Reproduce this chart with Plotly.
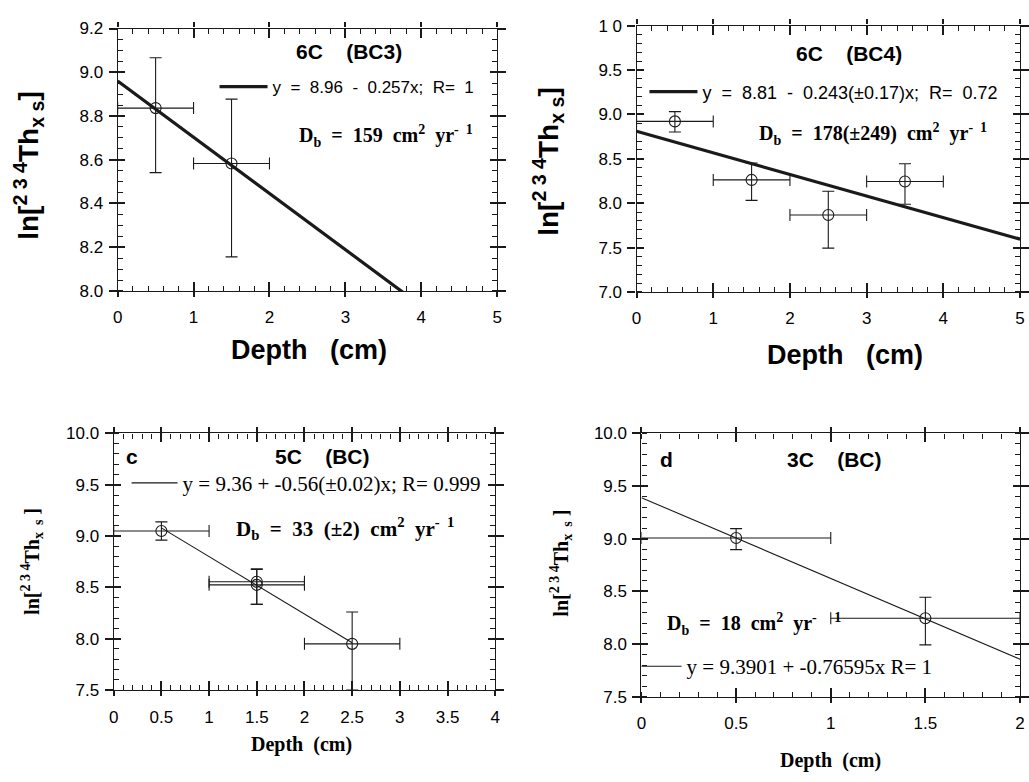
import plotly.graph_objects as go

SANS = "Liberation Sans, Arial, Helvetica, sans-serif"
SERIF = "Liberation Serif, Times New Roman, serif"
NB = "\u00a0"

# ---------------- data ----------------
a_depth = [0.5, 1.5]
a_ln = [8.836, 8.583]
a_err_up = [0.23, 0.294]
a_err_dn = [0.295, 0.427]
a_depth_err = [0.5, 0.5]
a_fit_depth = [0.0, 5.0]
a_fit_ln = [8.96, 7.675]

b_depth = [0.5, 1.5, 2.5, 3.5]
b_ln = [8.921, 8.262, 7.867, 8.244]
b_err_up = [0.11, 0.19, 0.267, 0.2]
b_err_dn = [0.12, 0.23, 0.373, 0.256]
b_depth_err = [0.5, 0.5, 0.5, 0.5]
b_fit_depth = [0.0, 5.0]
b_fit_ln = [8.81, 7.595]

c_depth = [0.5, 1.5, 1.5, 2.5]
c_ln = [9.05, 8.555, 8.525, 7.95]
c_err_up = [0.088, 0.125, 0.15, 0.31]
c_err_dn = [0.089, 0.22, 0.19, 0.45]
c_depth_err = [0.5, 0.5, 0.5, 0.5]
c_fit_depth = [0.5, 2.5]
c_fit_ln = [9.08, 7.96]

d_depth = [0.5, 1.5]
d_ln = [9.007, 8.246]
d_err_up = [0.09, 0.2]
d_err_dn = [0.11, 0.253]
d_depth_err = [0.5, 0.5]
d_fit_depth = [0.0, 2.0]
d_fit_ln = [9.39, 7.858]

b_y_tickvals = [7.0, 7.5, 8.0, 8.5, 9.0, 9.5, 10.0]
b_y_ticktext = ["7.0", "7.5", "8.0", "8.5", "9.0", "9.5", "1 0"]

eq_a = f"y{NB}{NB}={NB}{NB}8.96{NB}{NB}-{NB}{NB}0.257x;{NB}{NB}R={NB}{NB}1"
eq_b = f"y{NB}{NB}={NB}{NB}8.81{NB}{NB}-{NB}{NB}0.243(±0.17)x;{NB}{NB}R={NB}{NB}0.72"
eq_c = "y = 9.36 + -0.56(±0.02)x; R= 0.999"
eq_d = "y = 9.3901 + -0.76595x R= 1"

W, H = 1029, 782
INK = "#1a1a1a"


def px_dom(p0, p1, total, flip=False):
    if flip:
        return [1 - p1 / total, 1 - p0 / total]
    return [p0 / total, p1 / total]


panels = [
    dict(d=a_depth, y=a_ln, up=a_err_up, dn=a_err_dn, xe=a_depth_err,
         fx=a_fit_depth, fy=a_fit_ln, lw=3.2, eq=eq_a, eqfont=dict(family=SANS, size=17, color="black"),
         xdom=px_dom(114, 498, W), ydom=px_dom(20, 289, H, True), iw=48,
         xr=[0, 5], yr=[8.0, 9.2], xd=1, yd=0.2, xm=0.2, ym=0.05, yfmt=".1f"),
    dict(d=b_depth, y=b_ln, up=b_err_up, dn=b_err_dn, xe=b_depth_err,
         fx=b_fit_depth, fy=b_fit_ln, lw=3.2, eq=eq_b, eqfont=dict(family=SANS, size=18, color="black"),
         xdom=px_dom(639, 1027, W), ydom=px_dom(17, 290, H, True), iw=48,
         xr=[0, 5], yr=[7.0, 10.0], xd=1, yd=0.5, xm=0.2, ym=0.1, yfmt=".1f"),
    dict(d=c_depth, y=c_ln, up=c_err_up, dn=c_err_dn, xe=c_depth_err,
         fx=c_fit_depth, fy=c_fit_ln, lw=1.1, eq=eq_c, eqfont=dict(family=SERIF, size=21, color="black"),
         xdom=px_dom(110, 496, W), ydom=px_dom(435, 698, H, True), iw=46,
         xr=[0, 4], yr=[7.5, 10.0], xd=0.5, yd=0.5, xm=0.1, ym=0.1, yfmt=".1f"),
    dict(d=d_depth, y=d_ln, up=d_err_up, dn=d_err_dn, xe=d_depth_err,
         fx=d_fit_depth, fy=d_fit_ln, lw=1.1, eq=eq_d, eqfont=dict(family=SERIF, size=21, color="black"),
         xdom=px_dom(644, 1027, W), ydom=px_dom(435, 705, H, True), iw=40,
         xr=[0, 2], yr=[7.5, 10.0], xd=0.5, yd=0.5, xm=0.1, ym=0.1, yfmt=".1f"),
]

legend_pos = [(212, 80), (647, 85), (123, 486), (639, 674)]

fig = go.Figure()
layout = dict(width=W, height=H, margin=dict(l=0, r=0, t=0, b=0),
              paper_bgcolor="white", plot_bgcolor="white", showlegend=True)

for i, p in enumerate(panels, start=1):
    xs = "" if i == 1 else str(i)
    xo = str(i + 4)
    leg = "legend" if i == 1 else f"legend{i}"
    fig.add_trace(go.Scatter(x=p["fx"], y=p["fy"], mode="lines",
                             line=dict(color=INK, width=p["lw"]),
                             name=p["eq"], legend=leg, showlegend=True,
                             xaxis="x" + xs, yaxis="y" + xs, hoverinfo="skip"))
    fig.add_trace(go.Scatter(x=p["d"], y=p["y"], mode="markers",
                             marker=dict(symbol="circle-open", size=11, color=INK,
                                         line=dict(width=1.1, color=INK)),
                             error_y=dict(type="data", symmetric=False, array=p["up"],
                                          arrayminus=p["dn"], color=INK, thickness=1.1, width=6),
                             error_x=dict(type="data", array=p["xe"], color=INK,
                                          thickness=1.1, width=6),
                             showlegend=False, xaxis="x" + xs, yaxis="y" + xs))

    tickfont = dict(family=SANS, size=17, color="black")
    layout["xaxis" + xs] = dict(domain=p["xdom"], range=p["xr"], anchor="y" + xs,
                                dtick=p["xd"], tick0=0, ticks="outside", ticklen=5,
                                tickwidth=1.6, tickcolor=INK, showline=True, linecolor=INK,
                                linewidth=1.2, mirror="ticks", showgrid=False, zeroline=False,
                                tickfont=tickfont, fixedrange=True, ticklabelstandoff=6,
                                minor=dict(dtick=p["xm"], tick0=0, ticks="inside", ticklen=5,
                                           tickwidth=1.3, tickcolor=INK, showgrid=False))
    ydict = dict(domain=p["ydom"], range=p["yr"], anchor="x" + xs,
                 dtick=p["yd"], tick0=0, ticks="outside", ticklen=8,
                 tickwidth=1.6, tickcolor=INK, showline=True, linecolor=INK,
                 linewidth=1.2, mirror="ticks", showgrid=False, zeroline=False,
                 tickfont=tickfont, tickformat=p["yfmt"], fixedrange=True,
                 ticklabelstandoff=2,
                 minor=dict(dtick=p["ym"], tick0=0, ticks="inside", ticklen=5,
                            tickwidth=1.3, tickcolor=INK, showgrid=False))
    if i == 2:
        ydict.update(tickmode="array", tickvals=b_y_tickvals, ticktext=b_y_ticktext)
    layout["yaxis" + xs] = ydict
    # overlay axes give the inner half of the crossing major ticks
    fig.add_trace(go.Scatter(x=[None], y=[None], mode="markers", showlegend=False,
                             xaxis="x" + xo, yaxis="y" + xo, hoverinfo="skip"))
    layout["xaxis" + xo] = dict(overlaying="x" + xs, anchor="y" + xo, range=p["xr"],
                                dtick=p["xd"], tick0=0, ticks="inside", ticklen=9,
                                tickwidth=1.6, tickcolor=INK, showline=False, mirror="ticks",
                                showgrid=False, zeroline=False, showticklabels=False,
                                fixedrange=True)
    layout["yaxis" + xo] = dict(overlaying="y" + xs, anchor="x" + xo, range=p["yr"],
                                dtick=p["yd"], tick0=0, ticks="inside", ticklen=7,
                                tickwidth=1.6, tickcolor=INK, showline=False, mirror="ticks",
                                showgrid=False, zeroline=False, showticklabels=False,
                                fixedrange=True)
    lx, ly = legend_pos[i - 1]
    layout[leg] = dict(x=lx / W, y=1 - ly / H, xanchor="left", yanchor="middle",
                       bgcolor="rgba(0,0,0,0)", borderwidth=0, font=p["eqfont"],
                       itemwidth=p["iw"], tracegroupgap=0)

annotations = []


def ann(text, x, y, xref, yref, font, xanchor="center", angle=0):
    annotations.append(dict(text=text, x=x, y=y, xref=xref, yref=yref, showarrow=False,
                            font=font, xanchor=xanchor, yanchor="middle", textangle=angle))


bold_sans_title = dict(family=SANS, size=21, color="black")
bold_serif_db = dict(family=SERIF, size=20, color="black")
bold_serif_db_c = dict(family=SERIF, size=21, color="black")
sp = NB * 4

ann(f"<b>6C{sp}(BC3)</b>", 3.05, 9.097, "x", "y", bold_sans_title)
ann(f"<b>6C{sp}(BC4)</b>", 2.77, 9.69, "x2", "y2", bold_sans_title)
ann(f"<b>5C{sp}(BC)</b>", 2.19, 9.772, "x3", "y3", bold_sans_title)
ann(f"<b>3C{sp}(BC)</b>", 1.02, 9.75, "x4", "y4", bold_sans_title)
ann("<b>c</b>", 0.19, 9.772, "x3", "y3", bold_sans_title)
ann("<b>d</b>", 0.13, 9.75, "x4", "y4", bold_sans_title)

ann(f"<b>D<sub>b</sub>{NB}{NB}={NB}{NB}159{NB}{NB}cm<sup>2</sup>{NB}{NB}yr<sup>-{NB}{NB}1</sup></b>",
    3.53, 8.709, "x", "y", bold_serif_db)
ann(f"<b>D<sub>b</sub>{NB}{NB}={NB}{NB}178(±249){NB}{NB}cm<sup>2</sup>{NB}{NB}yr<sup>-{NB}{NB}1</sup></b>",
    3.08, 8.78, "x2", "y2", bold_serif_db)
ann(f"<b>D<sub>b</sub>{NB}{NB}={NB}{NB}33{NB}{NB}(±2){NB}{NB}cm<sup>2</sup>{NB}{NB}yr<sup>-{NB}{NB}1</sup></b>",
    2.42, 9.078, "x3", "y3", bold_serif_db_c)
ann(f"<b>D<sub>b</sub>{NB}{NB}={NB}{NB}18{NB}{NB}cm<sup>2</sup>{NB}{NB}yr<sup>-{NB}{NB}{NB}{NB}{NB}1</sup></b>",
    0.125, 8.19, "x4", "y4", bold_serif_db, xanchor="left")

ylab_sans = f"<b>ln[<sup>2{NB}3{NB}4</sup>Th<sub>x{NB}s</sub>]</b>"
ylab_serif = f"<b>ln[<sup>2{NB}3{NB}4</sup>Th<sub>x{NB}{NB}s</sub>{NB}]</b>"
big_sans = dict(family=SANS, size=28, color="black")
serif_t = dict(family=SERIF, size=20, color="black")
ann(ylab_sans, 24 / W, 1 - 160 / H, "paper", "paper", big_sans, angle=-90)
ann(ylab_sans, 550 / W, 1 - 156 / H, "paper", "paper", big_sans, angle=-90)
ann(ylab_serif, 28 / W, 1 - 566 / H, "paper", "paper", serif_t, angle=-90)
ann(ylab_serif, 563 / W, 1 - 568 / H, "paper", "paper", serif_t, angle=-90)

xlab_sans = f"<b>Depth{NB}{NB}{NB}(cm)</b>"
xlab_serif = f"<b>Depth{NB}{NB}(cm)</b>"
ann(xlab_sans, 308 / W, 1 - 350 / H, "paper", "paper", dict(family=SANS, size=27, color="black"))
ann(xlab_sans, 850 / W, 1 - 355 / H, "paper", "paper", dict(family=SANS, size=27, color="black"))
ann(xlab_serif, 300 / W, 1 - 754 / H, "paper", "paper", serif_t)
ann(xlab_serif, 835 / W, 1 - 770 / H, "paper", "paper", serif_t)

layout["annotations"] = annotations
fig.update_layout(**layout)
fig.write_html("out.html")
